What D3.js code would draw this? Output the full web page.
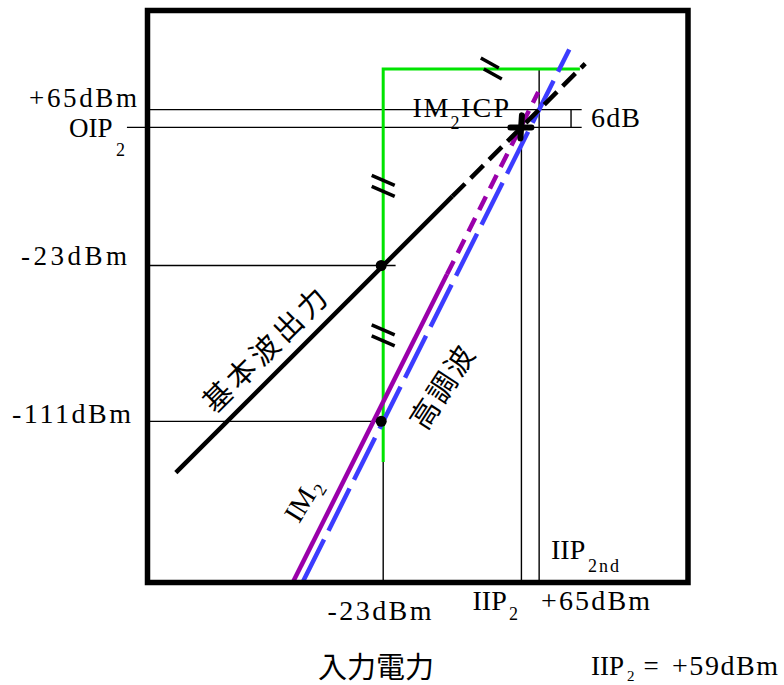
<!DOCTYPE html>
<html><head><meta charset="utf-8">
<script src="https://cdn.jsdelivr.net/npm/d3@7"></script>
<style>html,body{margin:0;padding:0;background:#fff}svg{display:block}</style>
</head><body>
<script>
// ---------- data (dBm) ----------
const inputTicks = [-23, 55, 65];                 // vertical guide positions
const inputTickLabels = ["-23dBm", "IIP", "+65dBm"];
const outputTicks = [65, 55, -23, -111];          // horizontal guide positions
const outputTickLabels = ["+65dBm", "OIP", "-23dBm", "-111dBm"];
const fundamentalSolid = [[-140, -140], [16, 16]];
const fundamentalDashed = [[16, 16], [91, 91]];
const im2Solid = [[-73.75, -201.5], [13, -28]];
const im2Dashed = [[13, -28], [64.5, 75]];
const harmonic2 = [[-68.25, -201.5], [82, 99]];
const greenPath = [[-23, -134], [-23, 88], [88, 88]];
const markPoints = [[-23, -23], [-23, -111]];
const interceptPoint = [55, 55];
const breakMarksV = [[-23, 22], [-23, -62.5]];
const breakMarksH = [[38, 88]];
const guideRight = 89;       // right end of the +65 / OIP2 guides
const bracketX = 83;         // 6dB bracket
const xDomain = [-156, 149], yDomain = [-202, 121];

// ---------- drawing ----------
const W = 784, H = 685;
const svg = d3.select("body").append("svg").attr("width", W).attr("height", H);
const x = d3.scaleLinear().domain(xDomain).range([147.5, 688]);
const y = d3.scaleLinear().domain(yDomain).range([582.5, 10.5]);
const line = d3.line().x(d => x(d[0])).y(d => y(d[1]));
const SERIF = "Liberation Serif, Times New Roman, serif";
const CJK = "Noto Sans CJK JP, Noto Sans CJK SC, sans-serif";

function seg(pts, color, w, dash) {
  const p = svg.append("path").attr("d", line(pts)).attr("fill", "none")
    .attr("stroke", color).attr("stroke-width", w);
  if (dash) p.attr("stroke-dasharray", dash);
  return p;
}
// thin guides
const thin = (pts) => seg(pts, "#000", 1.4);
thin([[xDomain[0], outputTicks[0]], [guideRight, outputTicks[0]]]);
thin([[-167.6, outputTicks[1]], [guideRight, outputTicks[1]]]);
thin([[xDomain[0], outputTicks[2]], [-16, outputTicks[2]]]);
thin([[xDomain[0], outputTicks[3]], [inputTicks[0], outputTicks[3]]]);
thin([[inputTicks[0], yDomain[0]], [inputTicks[0], greenPath[0][1]]]);
thin([[inputTicks[1], yDomain[0]], [inputTicks[1], interceptPoint[1]]]);
thin([[inputTicks[2], yDomain[0]], [inputTicks[2], greenPath[1][1]]]);
thin([[bracketX, outputTicks[1]], [bracketX, outputTicks[0]]]);

// green
seg(greenPath, "#00e400", 3);

// curves
seg(im2Solid, "#9a00aa", 4.5);
seg(im2Dashed, "#9a00aa", 4.5, "15,9");
seg(harmonic2, "#3c3cff", 4.5, "47,10");
seg(fundamentalSolid, "#000", 4.5);
seg(fundamentalDashed, "#000", 4.5, "18,8");

// dots
svg.selectAll("circle.m").data(markPoints).enter().append("circle")
  .attr("cx", d => x(d[0]) - 2).attr("cy", d => y(d[1])).attr("r", 5.5).attr("fill", "#000");

// intercept cross
const cx = x(interceptPoint[0]), cy = y(interceptPoint[1]);
svg.append("line").attr("x1", cx + 0.5).attr("y1", cy - 12).attr("x2", cx - 1).attr("y2", cy + 11)
  .attr("stroke", "#000").attr("stroke-width", 6).attr("stroke-linecap", "round");
svg.append("line").attr("x1", cx - 11).attr("y1", cy).attr("x2", cx + 10).attr("y2", cy)
  .attr("stroke", "#000").attr("stroke-width", 6).attr("stroke-linecap", "round");

// break marks
breakMarksV.forEach(d => {
  const px = x(d[0]), py = y(d[1]);
  [-5.5, 5.5].forEach(o => svg.append("line")
    .attr("x1", px - 11.5).attr("y1", py + o - 5).attr("x2", px + 11.5).attr("y2", py + o + 5)
    .attr("stroke", "#000").attr("stroke-width", 3.5));
});
breakMarksH.forEach(d => {
  const px = x(d[0]), py = y(d[1]);
  [[-1.5, -6], [1.5, 5]].forEach(o => svg.append("line")
    .attr("x1", px + o[0] - 9).attr("y1", py + o[1] - 5).attr("x2", px + o[0] + 9).attr("y2", py + o[1] + 5)
    .attr("stroke", "#000").attr("stroke-width", 3.5));
});

// frame
svg.append("rect").attr("x", x(xDomain[0])).attr("y", y(yDomain[1]))
  .attr("width", x(xDomain[1]) - x(xDomain[0])).attr("height", y(yDomain[0]) - y(yDomain[1]))
  .attr("fill", "none").attr("stroke", "#000").attr("stroke-width", 5.5);

// ---------- text ----------
function t(px, py, s, size, opts = {}) {
  const e = svg.append("text").attr("x", px).attr("y", py).text(s)
    .attr("font-family", opts.font || SERIF).attr("font-size", size).attr("fill", "#000");
  if (opts.len) e.attr("textLength", opts.len).attr("lengthAdjust", "spacing");
  if (opts.anchor) e.attr("text-anchor", opts.anchor);
  return e;
}
// left (output) labels
t(29, y(outputTicks[0]) - 2.3, outputTickLabels[0], 27, {len: 108});
t(69, y(outputTicks[1]) + 10, outputTickLabels[1], 27);
t(116, y(outputTicks[1]) + 29, "2", 18);
t(21, y(outputTicks[2]) - 0.5, outputTickLabels[2], 27, {len: 106});
t(12, y(outputTicks[3]) + 2, outputTickLabels[3], 28, {len: 119});
// bottom (input) labels
t(327.5, 620, inputTickLabels[0], 28, {len: 104});
t(472.5, 610, inputTickLabels[1], 28);
t(509, 620, "2", 18);
t(541, 610, inputTickLabels[2], 28, {len: 109});
// IIP2nd
t(551, 559.3, "IIP", 28);
t(588, 571.7, "2nd", 18, {len: 31});
// IM2ICP
t(412.5, 117.3, "IM", 28, {len: 36});
t(450.5, 129.3, "2", 18);
t(461, 117.3, "ICP", 28, {len: 48});
// 6dB
t(591, 127.3, "6dB", 28, {len: 49});
// x axis title
svg.append("text").attr("x", 376).attr("y", 678).attr("text-anchor", "middle")
  .attr("font-family", CJK).attr("font-size", 29).text("入力電力");
// IIP2 = +59dBm
t(591, 675, "IIP", 27);
t(627, 681, "2", 15);
t(643.5, 675, "=", 27);
t(672, 675, "+59dBm", 28, {len: 106});

// rotated labels
function rot(cxp, cyp, ang, s, size, font, len) {
  const g = svg.append("g").attr("transform", `translate(${cxp},${cyp}) rotate(${ang})`);
  const e = g.append("text").attr("text-anchor", "middle").attr("dominant-baseline", "central")
    .attr("font-family", font).attr("font-size", size).text(s);
  if (len) e.attr("textLength", len).attr("lengthAdjust", "spacing");
  return g;
}
rot(263, 348, -45, "基本波出力", 29, CJK, 162);
rot(440, 386, -57, "高調波", 29, CJK, 92);
const g = svg.append("g").attr("transform", "translate(301,503) rotate(-58)");
g.append("text").attr("text-anchor", "middle").attr("dominant-baseline", "central")
  .attr("font-family", SERIF).attr("font-size", 28).attr("x", -2).text("IM");
g.append("text").attr("dominant-baseline", "central")
  .attr("font-family", SERIF).attr("font-size", 18).attr("x", 17).attr("y", 9).text("2");
</script>
</body></html>
